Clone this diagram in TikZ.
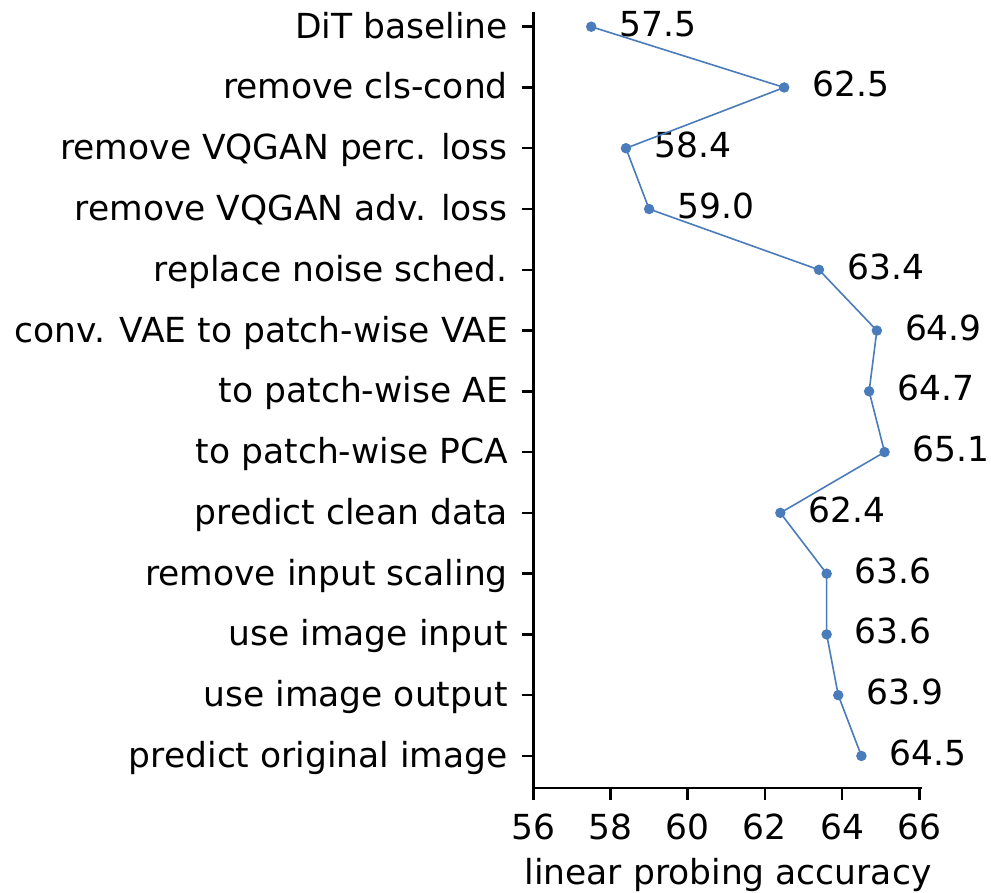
\documentclass[tikz,border=0pt]{standalone}
\usepackage{fontspec}
\setmainfont{DejaVu Sans}
\definecolor{lineblue}{HTML}{4A7BBA}
\begin{document}
\begin{tikzpicture}[x=1pt,y=-1pt,
  lbl/.style={font=\fontsize{34.5}{41}\selectfont, inner sep=0pt, text=black},
  dot/.style={circle, fill=lineblue, inner sep=0pt, minimum size=10.5pt},
  spine/.style={line width=2.8pt, black},
  tickmark/.style={line width=2.5pt, black},
  series/.style={lineblue, line width=1.6pt}]
\useasboundingbox (0,0) rectangle (991,892);

% axes spines
\coordinate (ytop) at (533.3,12);
\coordinate (origin) at (533.3,788);
\coordinate (xend) at (921.5,788);
\draw[spine] (ytop) -- ([yshift=-1.4pt]origin);
\draw[spine] ([xshift=-1.4pt]origin) -- (xend);

% data positions, category ticks and labels
\foreach \v/\t [count=\i from 0] in {
  57.5/DiT baseline,
  62.5/remove cls-cond,
  58.4/remove VQGAN perc. loss,
  59.0/remove VQGAN adv. loss,
  63.4/replace noise sched.,
  64.9/conv. VAE to patch-wise VAE,
  64.7/to patch-wise AE,
  65.1/to patch-wise PCA,
  62.4/predict clean data,
  63.6/remove input scaling,
  63.6/use image input,
  63.9/use image output,
  64.5/predict original image}{
  \coordinate (q\i) at ({533.3+(\v-56)*38.6},{26.7+60.77*\i});
  \coordinate (s\i) at (533.3,{26.7+60.77*\i});
  \draw[tickmark] (s\i) -- ++(-11.8,0);
  \node[lbl, anchor=base east] (c\i) at (508,{26.7+60.77*\i+11.5}) {\t};
  \node[lbl, anchor=base west] (v\i) at ({533.3+(\v-56)*38.6+28},{26.7+60.77*\i+9.5}) {\v};
}

% accuracy curve
\draw[series, line join=round] (q0) \foreach \i in {1,...,12}{ -- (q\i)};
\foreach \i in {0,...,12}{
  \node[dot] (p\i) at (q\i) {};
}

% x-axis ticks and labels
\foreach \t in {56,58,60,62,64,66}{
  \coordinate (xt\t) at ({533.3+(\t-56)*38.6},788);
  \draw[tickmark] (xt\t) -- ++(0,11.8);
  \node[lbl, anchor=base] (xl\t) at ({533.3+(\t-56)*38.6},839) {\t};
}
\node[lbl, anchor=base] (xlabel) at (728,884) {linear probing accuracy};
\end{tikzpicture}
\end{document}
